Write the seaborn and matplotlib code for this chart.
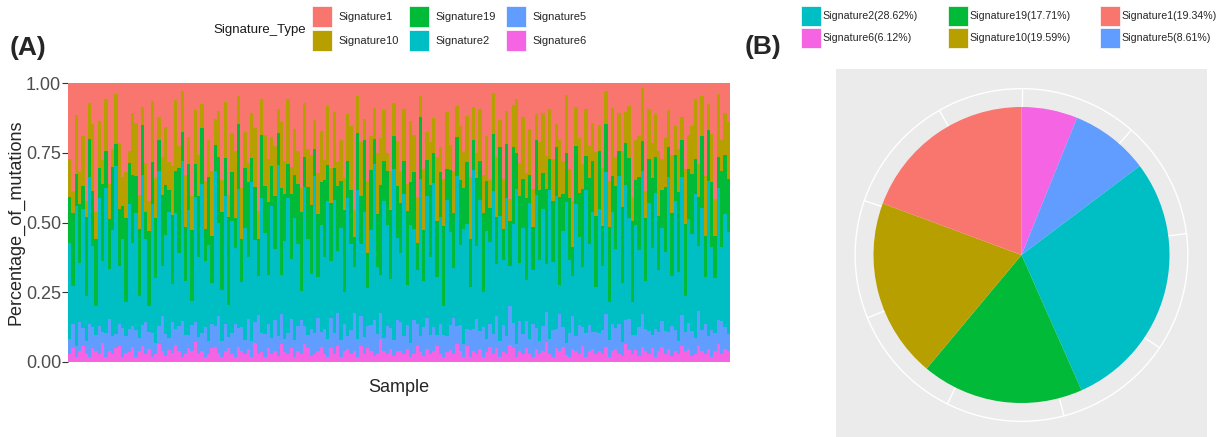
import numpy as np, pandas as pd
import matplotlib as mpl, matplotlib.pyplot as plt
import seaborn as sns
from matplotlib.patches import Patch, Circle

sns.set_style('white')
plt.rcParams['font.family'] = ['Liberation Sans', 'DejaVu Sans']

#%% data (signature contributions per sample, in %)
signature_types = ['Signature1', 'Signature10', 'Signature19',
                   'Signature2', 'Signature5', 'Signature6']

sig6 = [3,5,2,4,6,3,2,5,4,3,7,2,4,3,5,6,2,3,4,5,
        2,4,6,3,5,2,3,7,4,2,5,3,6,4,2,3,5,4,8,3,
        4,2,3,5,6,3,2,4,5,3,2,6,4,3,5,2,7,3,4,2,
        5,3,4,2,6,4,3,5,2,4,3,7,5,2,3,4,6,3,2,5,
        3,6,2,4,5,3,4,2,6,3,5,4,2,3,8,4,3,5,2,4,
        4,3,5,2,3,6,4,2,5,3,4,6,3,2,4,5,3,7,4,2,
        6,2,4,3,5,2,4,6,3,5,2,4,3,6,5,2,4,3,5,3,
        2,5,3,4,7,3,2,5,4,6,3,2,5,4,3,6,2,4,5,3,
        4,3,6,2,4,5,3,2,7,4,3,5,2,6,4,3,5,2,4,6,
        3,5,2,4,3,6,4,5,2,3,6,4,3,5,2,4,7,3,5,4]
sig5 = [6,9,4,11,7,5,13,8,6,10,4,9,12,7,5,8,11,6,9,7,
        10,5,8,12,6,9,4,7,13,8,5,11,6,9,14,7,5,10,8,6,
        7,11,5,9,8,13,6,10,4,8,12,7,9,5,11,6,8,14,7,9,
        9,6,12,7,10,5,8,11,6,9,13,7,5,10,8,12,6,9,7,11,
        8,12,6,10,5,9,14,7,11,6,8,10,13,7,9,5,11,8,6,12,
        11,7,9,5,13,8,6,10,12,7,9,4,11,8,6,10,13,7,9,5,
        6,10,8,13,7,11,5,9,8,12,6,10,7,14,9,5,11,8,10,6,
        12,8,5,9,11,6,10,7,13,8,5,9,12,6,11,7,9,10,6,8,
        7,9,13,6,10,8,12,5,9,11,7,6,10,13,8,9,5,11,7,10,
        9,6,11,8,5,12,7,10,9,6,13,8,11,5,10,7,9,12,8,6]
sig2 = [38,14,52,22,45,17,58,30,11,47,26,55,19,40,61,21,34,12,50,28,
        44,16,57,31,10,49,24,60,18,36,53,13,42,27,62,20,46,9,51,29,
        56,25,37,15,60,33,19,48,12,43,28,54,17,41,23,59,31,14,52,39,
        18,49,27,58,13,38,52,22,45,30,11,55,35,20,59,15,42,26,54,21,
        50,23,41,12,53,32,17,57,27,46,14,36,56,24,13,51,39,19,61,31,
        26,55,15,44,35,20,60,16,48,29,53,22,40,11,52,37,18,58,28,45,
        39,16,59,27,50,13,43,32,56,19,47,25,54,14,36,60,21,41,15,53,
        20,51,30,43,17,57,26,48,10,38,58,28,15,50,34,22,55,31,45,16,
        47,24,56,14,41,30,59,21,52,35,12,44,26,57,18,49,32,53,23,37,
        30,58,18,48,26,53,13,40,34,55,24,46,17,60,31,21,50,27,42,36]
sig19 = [18,27,12,22,9,30,15,20,25,11,28,14,19,24,8,21,13,29,16,23,
         14,25,19,10,28,16,22,12,26,18,9,24,15,31,11,20,17,27,13,22,
         21,12,26,17,10,23,29,14,32,19,11,25,16,22,28,9,20,13,24,18,
         27,15,20,11,29,18,13,24,16,22,30,12,19,25,10,23,17,28,14,21,
         12,24,17,30,14,20,11,22,18,26,13,23,9,19,31,15,21,27,12,20,
         19,13,28,16,22,10,24,18,14,27,11,21,17,30,12,25,20,15,23,16,
         23,18,11,25,15,29,20,13,22,17,26,12,21,16,28,14,24,19,30,11,
         16,21,26,13,27,12,23,18,31,15,20,24,11,22,17,29,13,25,19,26,
         22,15,19,28,13,24,10,27,16,21,30,18,25,12,23,17,26,14,20,15,
         25,11,23,17,30,14,26,19,21,13,18,27,15,20,24,16,12,28,22,19]
sig10 = [15,8,22,12,19,6,14,25,10,17,9,20,13,7,18,24,11,16,5,21,
         20,13,7,18,11,23,15,9,14,21,12,17,26,8,16,19,10,13,22,15,
         9,18,14,24,10,16,12,21,8,15,25,11,19,13,7,17,22,10,14,20,
         16,11,19,8,22,13,25,10,17,12,9,21,14,18,11,15,20,7,23,13,
         21,9,15,12,18,24,10,14,20,8,26,13,11,22,16,19,7,15,12,17,
         12,20,10,23,14,17,8,21,11,16,13,24,9,18,22,10,15,12,19,14,
         17,23,12,9,20,14,18,11,16,22,10,19,13,8,15,21,12,24,9,18,
         14,10,18,22,12,19,16,8,20,13,24,11,17,15,21,9,18,12,14,23,
         10,22,13,17,25,11,15,20,12,18,9,16,14,21,10,19,13,17,24,12,
         19,14,21,11,16,9,20,13,17,23,12,15,22,10,18,14,24,11,16,20]
sig1 = [30,40,12,33,20,45,8,15,48,14,28,6,38,25,4,22,36,31,27,10,
        15,42,9,30,44,7,35,13,27,16,33,29,6,23,3,34,20,43,11,26,
        8,37,22,32,14,10,36,7,41,19,25,5,39,18,30,11,17,46,6,20,
        28,20,24,9,13,30,6,31,17,25,40,8,24,26,14,33,19,28,9,31,
        11,29,21,35,12,16,47,5,22,13,36,20,9,25,19,10,27,34,7,22,
        33,10,38,14,20,42,5,30,19,22,13,28,24,36,11,25,32,9,15,27,
        12,35,9,26,10,34,21,38,4,27,14,37,11,41,8,6,29,13,33,18,
        39,12,22,11,26,10,29,15,20,31,5,33,44,9,21,30,10,24,15,25,
        16,32,3,36,9,28,12,24,11,8,42,23,18,2,40,10,22,12,25,30,
        21,10,26,16,25,13,31,20,15,6,30,5,34,8,19,44,4,21,11,14]

# overall contribution (pie), legend order as in the figure
pie_labels = ['Signature2', 'Signature6', 'Signature19',
              'Signature10', 'Signature1', 'Signature5']
pie_values = [28.62, 6.12, 17.71, 19.59, 19.34, 8.61]
# drawing order, clockwise from 12 o'clock
pie_order = ['Signature6', 'Signature5', 'Signature2',
             'Signature19', 'Signature10', 'Signature1']

palette = {'Signature1': '#F8766D', 'Signature10': '#B79F00',
           'Signature19': '#00BA38', 'Signature2': '#00BFC4',
           'Signature5': '#619CFF', 'Signature6': '#F564E3'}

#%% normalise per sample, then cumulative tops (Signature6 at the bottom)
wide = pd.DataFrame({'Signature1': sig1, 'Signature10': sig10,
                     'Signature19': sig19, 'Signature2': sig2,
                     'Signature5': sig5, 'Signature6': sig6})
wide = wide.div(wide.sum(axis=1), axis=0)
cum = wide[signature_types[::-1]].cumsum(axis=1)
cum['Sample'] = np.arange(len(cum))
df = cum.melt(id_vars='Sample', var_name='Signature_Type',
              value_name='Percentage_of_mutations')

W, H = 1223, 437
fig = plt.figure(figsize=(W/100, H/100), dpi=100)

#%% (A) stacked bars: full-height bars overlaid, top layer first
ax = fig.add_axes([68/W, 1-362/H, (730-68)/W, (362-83)/H])
sns.barplot(data=df, x='Sample', y='Percentage_of_mutations',
            hue='Signature_Type', hue_order=signature_types,
            palette=palette, dodge=False, width=1, saturation=1,
            errorbar=None, linewidth=0, antialiased=False,
            legend=False, ax=ax)
ax.set_xlim(-0.5, len(wide)-0.5)
ax.set_ylim(0, 1)
ax.set_yticks([0, 0.25, 0.5, 0.75, 1.0])
ax.set_yticklabels(['0.00', '0.25', '0.50', '0.75', '1.00'])
ax.set_xticks([])
for s in ax.spines.values():
    s.set_visible(False)
ax.tick_params(axis='y', which='both', left=True, length=4, width=0.8,
               color='#333333', labelcolor='#4D4D4D', labelsize=13, pad=1)
ax.set_xlabel('Sample', fontsize=13, labelpad=12)
ax.set_ylabel('Percentage_of_mutations', fontsize=13, labelpad=1)

handles = [Patch(facecolor=palette[s], edgecolor='white', linewidth=0.5)
           for s in signature_types]
fig.legend(handles, signature_types, loc='upper left',
           bbox_to_anchor=(312/W, 1-6/H), ncol=3, frameon=False,
           fontsize=8, handlelength=1.8, handleheight=2.5,
           handletextpad=0.6, columnspacing=0.9, labelspacing=0.3,
           borderpad=0, borderaxespad=0)
fig.text(213/W, 1-30/H, 'Signature_Type', fontsize=9.5, va='center',
         color='#1a1a1a')

#%% (B) pie
ax2 = fig.add_axes([836/W, 0, 371/W, (H-69)/H])
vals = dict(zip(pie_labels, pie_values))
ring = 1.124
for a in np.arange(0, 360, 41.3):
    t = np.deg2rad(90 - a)
    ax2.plot([0, ring*np.cos(t)], [0, ring*np.sin(t)], color='white',
             lw=1.0, zorder=1)
ax2.add_patch(Circle((0, 0), ring, fill=False, ec='white', lw=1.0, zorder=1))
ax2.pie([vals[k] for k in pie_order], colors=[palette[k] for k in pie_order],
        startangle=90, counterclock=False, radius=1,
        wedgeprops=dict(linewidth=0, zorder=2))
ax2.set_frame_on(True)
ax2.set_facecolor('#EBEBEB')
for s in ax2.spines.values():
    s.set_visible(False)
ax2.set_aspect('auto')
ax2.set_xlim(-185.5/148, 185.5/148)
ax2.set_ylim(-(H-255)/148, (255-69)/148)
ax2.set_xticks([]); ax2.set_yticks([])

pie_handles = [Patch(facecolor=palette[k], edgecolor='white', linewidth=0.5)
               for k in pie_labels]
pie_text = [f'{k}({v:.2f}%)' for k, v in zip(pie_labels, pie_values)]
fig.legend(pie_handles, pie_text, loc='upper left',
           bbox_to_anchor=(801/W, 1-6/H), ncol=3, frameon=False,
           fontsize=7.7, handlelength=1.9, handleheight=2.5,
           handletextpad=0.1, columnspacing=2.8, labelspacing=0.2,
           borderpad=0, borderaxespad=0)

fig.text(10/W, 1-48/H, '(A)', fontsize=19, fontweight='bold', va='center')
fig.text(745/W, 1-47/H, '(B)', fontsize=19, fontweight='bold', va='center')

fig.savefig('out.png', dpi=100, facecolor='white')
